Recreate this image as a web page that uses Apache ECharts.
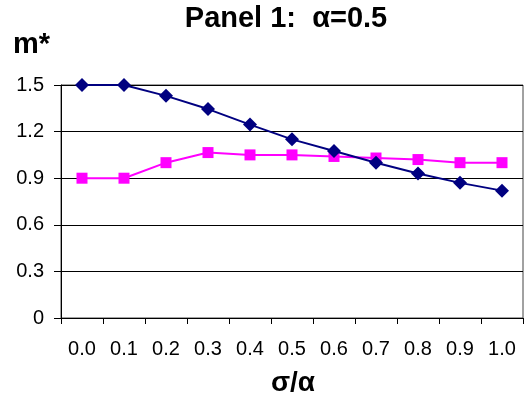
<!DOCTYPE html>
<html>
<head>
<meta charset="utf-8">
<script src="https://cdn.jsdelivr.net/npm/echarts@6/dist/echarts.min.js"></script>
<style>html,body{margin:0;padding:0;background:#fff}#c{width:527px;height:401px}</style>
</head>
<body>
<div id="c"></div>
<script>
var categories = ['0.0','0.1','0.2','0.3','0.4','0.5','0.6','0.7','0.8','0.9','1.0'];
var seriesNavy = [1.5, 1.5, 1.43, 1.345, 1.245, 1.15, 1.075, 1.0, 0.93, 0.87, 0.82];
var seriesMagenta = [0.9, 0.9, 1.0, 1.065, 1.05, 1.05, 1.04, 1.03, 1.02, 1.0, 1.0];
var titleText = 'Panel 1:  α=0.5';
var yName = 'm*';
var xName = 'σ/α';

var FONT = '"Liberation Sans", Arial, sans-serif';
var chart = echarts.init(document.getElementById('c'), null, {renderer: 'canvas'});
chart.setOption({
  backgroundColor: '#fff',
  animation: false,
  title: [
    {text: titleText, left: 286, top: 4, padding: 0, textAlign: 'center',
     textStyle: {fontFamily: FONT, fontSize: 29, fontWeight: 'bold', color: '#000'}},
    {text: yName, left: 13, top: 30, padding: 0,
     textStyle: {fontFamily: FONT, fontSize: 29, fontWeight: 'bold', color: '#000'}},
    {text: xName, left: 293, top: 369, padding: 0, textAlign: 'center',
     textStyle: {fontFamily: FONT, fontSize: 28, fontWeight: 'bold', color: '#000'}}
  ],
  grid: {left: 61, right: 4, top: 85, bottom: 83, show: true, borderColor: '#444', borderWidth: 1},
  xAxis: {
    type: 'category', data: categories, boundaryGap: true,
    axisLine: {show: true, lineStyle: {color: '#000', width: 1}},
    axisTick: {show: true, length: 6, alignWithLabel: false, lineStyle: {color: '#000'}},
    axisLabel: {fontFamily: FONT, fontSize: 20, color: '#000', margin: 21, interval: 0},
    splitLine: {show: false}
  },
  yAxis: {
    type: 'value', min: 0, max: 1.5, interval: 0.3,
    axisLine: {show: true, lineStyle: {color: '#000', width: 1}},
    axisTick: {show: true, length: 7, lineStyle: {color: '#000'}},
    axisLabel: {fontFamily: FONT, fontSize: 20, color: '#000', margin: 17,
      formatter: function (v) { return v === 0 ? '0' : v.toFixed(1); }},
    splitLine: {show: true, lineStyle: {color: '#000', width: 1}}
  },
  series: [
    {type: 'line', data: seriesNavy, symbol: 'diamond', symbolSize: 14,
     lineStyle: {color: '#000080', width: 2}, itemStyle: {color: '#000080'}, z: 3},
    {type: 'line', data: seriesMagenta, symbol: 'rect', symbolSize: 11,
     lineStyle: {color: '#FF00FF', width: 2}, itemStyle: {color: '#FF00FF'}, z: 2}
  ]
});
</script>
</body>
</html>
